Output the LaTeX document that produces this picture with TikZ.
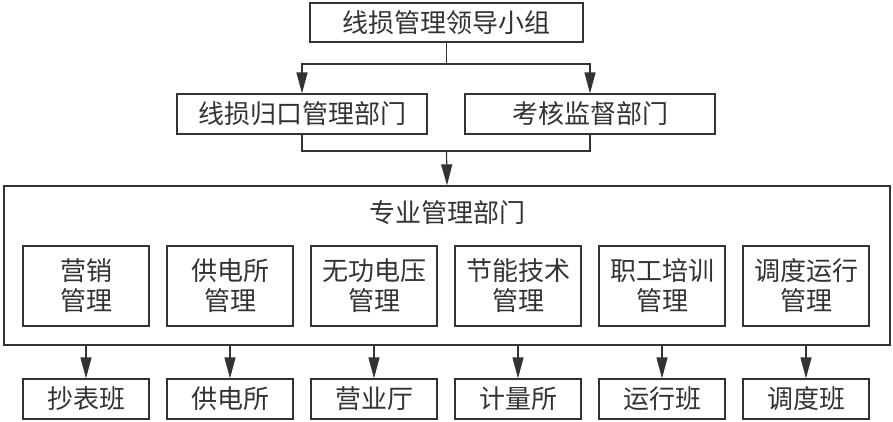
\documentclass[tikz,border=0pt]{standalone}
\usepackage{fontspec}
\newfontfamily\cjk{Noto Sans CJK SC}
\usetikzlibrary{arrows.meta}
\definecolor{linegray}{HTML}{333333}

\begin{document}
\begin{tikzpicture}[x=1pt,y=-1pt,
    box/.style={draw=linegray,line width=1.2pt,text=linegray,inner sep=0pt,
      font=\cjk\fontsize{26}{30}\selectfont,align=center},
    unit/.style={box,minimum width=126pt,minimum height=80pt},
    team/.style={box,minimum width=126pt,minimum height=40pt},
    flow/.style={draw=linegray,line width=1.2pt},
    arr/.style={flow,-{Triangle[length=21pt,width=11pt]}}]
  \useasboundingbox (0,0) rectangle (893,421);
  % top levels
  \node[box,minimum width=273pt,minimum height=39pt] (lead) at (446.5,22.5) {线损管理领导小组};
  \node[box,minimum width=250pt,minimum height=40pt] (gui) at (302,114) {线损归口管理部门};
  \node[box,minimum width=250pt,minimum height=40pt] (kh) at (590,114) {考核监督部门};
  \coordinate (j1) at (446.5,64);
  \coordinate (j2) at (446.5,151);
  \draw[flow] (lead.south) -- (j1);
  \draw[arr] (j1) -| (gui.north);
  \draw[arr] (j1) -| (kh.north);
  \draw[flow] (gui.south) |- (j2) -| (kh.south);
  % specialist departments
  \node[draw=linegray,line width=1.2pt,minimum width=886pt,minimum height=159pt,inner sep=0pt]
    (zy) at (447,265.5) {};
  \draw[arr] (j2) -- (zy.north);
  \node[text=linegray,font=\cjk\fontsize{26}{30}\selectfont] (zyl) at (447,213) {专业管理部门};
  \node[unit] (u1) at (86,286) {营销\\管理};
  \node[unit] (u2) at (230,286) {供电所\\管理};
  \node[unit] (u3) at (374,286) {无功电压\\管理};
  \node[unit] (u4) at (518,286) {节能技术\\管理};
  \node[unit] (u5) at (662,286) {职工培训\\管理};
  \node[unit] (u6) at (806,286) {调度运行\\管理};
  % teams
  \node[team] (t1) at (86,399) {抄表班};
  \node[team] (t2) at (230,399) {供电所};
  \node[team] (t3) at (374,399) {营业厅};
  \node[team] (t4) at (518,399) {计量所};
  \node[team] (t5) at (662,399) {运行班};
  \node[team] (t6) at (806,399) {调度班};
  \draw[arr] (zy.south -| t1.north) -- (t1.north);
  \draw[arr] (zy.south -| t2.north) -- (t2.north);
  \draw[arr] (zy.south -| t3.north) -- (t3.north);
  \draw[arr] (zy.south -| t4.north) -- (t4.north);
  \draw[arr] (zy.south -| t5.north) -- (t5.north);
  \draw[arr] (zy.south -| t6.north) -- (t6.north);
\end{tikzpicture}
\end{document}
